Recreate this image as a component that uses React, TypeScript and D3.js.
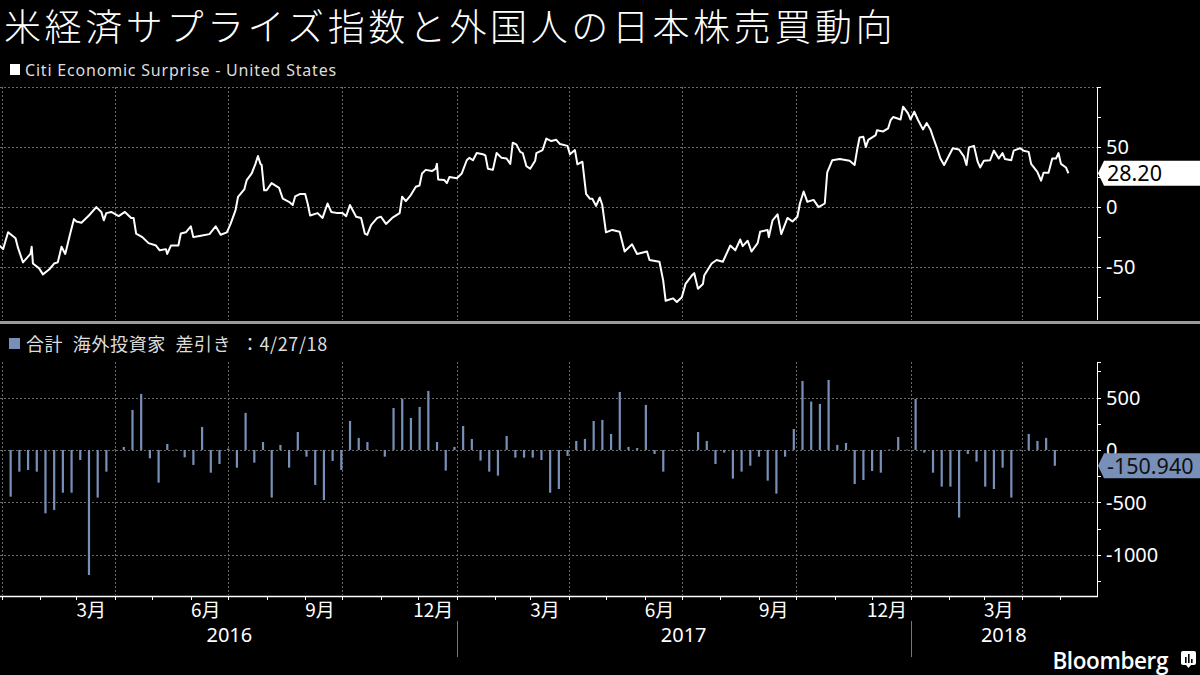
import React, { useEffect, useRef } from 'react';
import * as d3 from 'd3';

// Citi Economic Surprise Index - United States
const citiSeries: [string, number][] = [
  ["2015-12-30", -32], ["2016-01-02", -35], ["2016-01-06", -21], ["2016-01-12", -26], ["2016-01-14", -34],
  ["2016-01-18", -46], ["2016-01-24", -39], ["2016-01-25", -33], ["2016-01-26", -47], ["2016-01-31", -51],
  ["2016-02-03", -56], ["2016-02-08", -52], ["2016-02-12", -47], ["2016-02-15", -46], ["2016-02-18", -33],
  ["2016-02-21", -39], ["2016-02-25", -22], ["2016-02-28", -10], ["2016-03-01", -12], ["2016-03-05", -13],
  ["2016-03-11", -7], ["2016-03-17", 0], ["2016-03-21", -4], ["2016-03-23", -11], ["2016-03-25", -5],
  ["2016-03-29", -4], ["2016-04-04", -7.5], ["2016-04-09", -4], ["2016-04-14", -9], ["2016-04-16", -9],
  ["2016-04-18", -22], ["2016-04-23", -25], ["2016-04-28", -30], ["2016-05-04", -32], ["2016-05-07", -36],
  ["2016-05-12", -35], ["2016-05-13", -39], ["2016-05-16", -32], ["2016-05-22", -32], ["2016-05-24", -22],
  ["2016-05-28", -21], ["2016-06-01", -16], ["2016-06-03", -25], ["2016-06-08", -24], ["2016-06-16", -22.5],
  ["2016-06-21", -16], ["2016-06-25", -23], ["2016-06-30", -21], ["2016-07-03", -14], ["2016-07-07", -2.5],
  ["2016-07-09", 8.6], ["2016-07-14", 14.7], ["2016-07-16", 22.5], ["2016-07-20", 28], ["2016-07-23", 36],
  ["2016-07-25", 42.5], ["2016-07-27", 36], ["2016-07-28", 35], ["2016-07-30", 14], ["2016-08-01", 14],
  ["2016-08-05", 20], ["2016-08-11", 16], ["2016-08-14", 7], ["2016-08-19", 4.4], ["2016-08-22", 1.7],
  ["2016-08-24", 9], ["2016-08-28", 11], ["2016-09-01", 11], ["2016-09-03", 3], ["2016-09-05", -7],
  ["2016-09-11", -5], ["2016-09-15", -9], ["2016-09-19", 3], ["2016-09-22", -4], ["2016-09-27", -5],
  ["2016-10-01", -5], ["2016-10-04", -7.5], ["2016-10-07", 1.7], ["2016-10-12", -8], ["2016-10-16", -9],
  ["2016-10-19", -22], ["2016-10-21", -23], ["2016-10-24", -15], ["2016-10-29", -9], ["2016-11-01", -8],
  ["2016-11-05", -14], ["2016-11-10", -9], ["2016-11-16", -5], ["2016-11-18", 8.6], ["2016-11-21", 5],
  ["2016-11-25", 10], ["2016-11-29", 17], ["2016-12-02", 18], ["2016-12-04", 28], ["2016-12-07", 31],
  ["2016-12-12", 30], ["2016-12-15", 32], ["2016-12-16", 36], ["2016-12-17", 23], ["2016-12-22", 22.5],
  ["2016-12-24", 20], ["2016-12-26", 25], ["2017-01-01", 24], ["2017-01-05", 28], ["2017-01-09", 39],
  ["2017-01-11", 41], ["2017-01-14", 39], ["2017-01-17", 45], ["2017-01-22", 44], ["2017-01-24", 43],
  ["2017-01-26", 32], ["2017-01-30", 31], ["2017-02-02", 45], ["2017-02-06", 41], ["2017-02-10", 40.5],
  ["2017-02-13", 36], ["2017-02-15", 53.6], ["2017-02-18", 52], ["2017-02-21", 46], ["2017-02-23", 45],
  ["2017-02-26", 34], ["2017-03-01", 32], ["2017-03-05", 38.6], ["2017-03-06", 45], ["2017-03-11", 47.5],
  ["2017-03-14", 57], ["2017-03-18", 55], ["2017-03-22", 56], ["2017-03-25", 52.5], ["2017-03-31", 51],
  ["2017-04-02", 44], ["2017-04-06", 47.5], ["2017-04-08", 35.6], ["2017-04-12", 37.8], ["2017-04-15", 11],
  ["2017-04-18", 7], ["2017-04-20", 7], ["2017-04-23", 1], ["2017-04-26", 8], ["2017-04-28", 1.7],
  ["2017-05-01", -21], ["2017-05-06", -19], ["2017-05-12", -20.5], ["2017-05-16", -37], ["2017-05-22", -31],
  ["2017-05-26", -39], ["2017-06-03", -37], ["2017-06-05", -44], ["2017-06-13", -45.5], ["2017-06-16", -61],
  ["2017-06-18", -78], ["2017-06-24", -76], ["2017-06-27", -79], ["2017-07-01", -75], ["2017-07-04", -64],
  ["2017-07-09", -57], ["2017-07-11", -55], ["2017-07-14", -68], ["2017-07-18", -64], ["2017-07-19", -57],
  ["2017-07-25", -47], ["2017-07-29", -44], ["2017-08-03", -45.5], ["2017-08-09", -32], ["2017-08-13", -36],
  ["2017-08-17", -27], ["2017-08-19", -32.5], ["2017-08-23", -28], ["2017-08-26", -37], ["2017-08-31", -30],
  ["2017-09-02", -20.5], ["2017-09-08", -19], ["2017-09-09", -25], ["2017-09-12", -11], ["2017-09-16", -6],
  ["2017-09-19", -22.5], ["2017-09-24", -9], ["2017-09-28", -12], ["2017-10-02", -8], ["2017-10-04", 3],
  ["2017-10-07", 13], ["2017-10-10", 4.4], ["2017-10-15", 6], ["2017-10-19", 0], ["2017-10-24", 3],
  ["2017-10-26", 29], ["2017-10-30", 39], ["2017-11-05", 40], ["2017-11-13", 38.6], ["2017-11-17", 35],
  ["2017-11-19", 47.5], ["2017-11-21", 58], ["2017-11-24", 58.6], ["2017-11-26", 50], ["2017-11-28", 56],
  ["2017-12-04", 60], ["2017-12-05", 64], ["2017-12-10", 63], ["2017-12-14", 65.6], ["2017-12-16", 72.5],
  ["2017-12-18", 75], ["2017-12-21", 74], ["2017-12-24", 73], ["2017-12-26", 83.6], ["2017-12-30", 78],
  ["2018-01-01", 73], ["2018-01-04", 79.4], ["2018-01-07", 72.5], ["2018-01-11", 64.7], ["2018-01-14", 70],
  ["2018-01-17", 64.7], ["2018-01-19", 58.6], ["2018-01-22", 50], ["2018-01-25", 40.5], ["2018-01-28", 35],
  ["2018-02-04", 49], ["2018-02-09", 48], ["2018-02-13", 42], ["2018-02-15", 35], ["2018-02-17", 49.7],
  ["2018-02-21", 51], ["2018-02-24", 37.8], ["2018-02-26", 33], ["2018-03-01", 38.6], ["2018-03-06", 39],
  ["2018-03-09", 47], ["2018-03-13", 40.5], ["2018-03-16", 45], ["2018-03-18", 40], ["2018-03-23", 39],
  ["2018-03-25", 47], ["2018-03-30", 49], ["2018-04-02", 47], ["2018-04-06", 46], ["2018-04-08", 36],
  ["2018-04-13", 29.4], ["2018-04-16", 22], ["2018-04-18", 28.6], ["2018-04-22", 28.6], ["2018-04-25", 40.5],
  ["2018-04-28", 40.5], ["2018-04-30", 45], ["2018-05-02", 36], ["2018-05-06", 33], ["2018-05-08", 28.2],
];

// weekly net purchases by foreign investors (合計 海外投資家 差引き), week ending Fridays
const flowFirstWeek = "2016-01-08";
const flowLastWeek = "2018-04-27";
const flowValues = [
  -446, -207, -191, -207, -605, -573, -408, -408, -96, -1194,
  -455, -207, 5, 29, 382, 535, -80, -312, 57, 4,
  -70, -143, 220, -217, -134, 13, -169, 354, -121, 76,
  -455, 48, -169, 172, -64, -334, -478, -105, -191, 277,
  115, 76, 3, -64, 401, 490, 306, 411, 564, 76,
  -197, 29, 229, 105, -102, -207, -245, 134, -73, -73,
  -73, -96, -408, -373, -57, 86, 105, 277, 287, 153,
  554, 29, 19, 430, -38, -207, -6, 6, -6, 172,
  86, -134, -25, -274, -207, -150, -64, -293, -417, -64,
  200, 659, 462, 440, 669, 48, 67, -325, -287, -201,
  -217, 5, 124, 3, 487, -25, -217, -350, -350, -646,
  -38, -111, -350, -373, -169, -455, 3, 153, 86, 115,
  -150.94,
];

const topTicks = [50, 0, -50];
const topMinor = [100, 75, 25, -25, -75];
const bottomTicks = [500, 0, -500, -1000];
const bottomMinor = [750, 250, -250, -750, -1250];
const labelMonths = [2, 5, 8, 11]; // 3月 6月 9月 12月
const lastCiti = "28.20";
const lastFlow = "-150.940";

const title = "米経済サプライズ指数と外国人の日本株売買動向";
const legendTop = "Citi Economic Surprise - United States";
const legendBottom = "合計 海外投資家 差引き ：4/27/18";

const BAR = "#7890b8";
const GRID = "#6a6a6a";
const FONT = "'Noto Sans', 'Noto Sans CJK JP', sans-serif";
const JFONT = "'Noto Sans CJK JP', 'Noto Sans', sans-serif";

const App: React.FC = () => {
  const svgRef = useRef<SVGSVGElement>(null);

  useEffect(() => {
    if (!svgRef.current) return;
    const svg = d3.select(svgRef.current);
    svg.selectAll("*").remove();

    const width = 1200;
    const height = 675;
    const plotRight = 1097;
    const top = { y0: 87, y1: 320 };
    const bot = { y0: 362, y1: 595 };
    const parse = d3.timeParse("%Y-%m-%d");

    const start = new Date(2015, 11, 30, 12);
    const end = new Date(2018, 4, 31);
    const x = d3.scaleTime().domain([start, end]).range([0, plotRight]);
    const yTop = d3.scaleLinear().domain([-94, 100]).range([top.y1, top.y0]);
    const yBot = d3.scaleLinear().domain([-1385, 840]).range([bot.y1, bot.y0]);

    svg.append("rect").attr("width", width).attr("height", height).attr("fill", "#000");

    // title + legends
    svg.append("text").attr("x", 4).attr("y", 41).attr("fill", "#fff")
      .attr("font-family", JFONT).attr("font-size", 37).attr("font-weight", 300)
      .attr("letter-spacing", 3.6).text(title);

    svg.append("rect").attr("x", 10).attr("y", 64).attr("width", 10).attr("height", 11).attr("fill", "#fff");
    svg.append("text").attr("x", 25).attr("y", 75.5).attr("fill", "#ddd")
      .attr("font-family", FONT).attr("font-size", 16).attr("letter-spacing", 0.8).text(legendTop);

    svg.append("rect").attr("x", 9).attr("y", 338).attr("width", 11).attr("height", 11).attr("fill", BAR);
    svg.append("text").attr("x", 26).attr("y", 351).attr("fill", "#ddd")
      .attr("font-family", JFONT).attr("font-size", 18).attr("letter-spacing", 0.6)
      .attr("word-spacing", 5).text(legendBottom);

    // panel separator
    svg.append("rect").attr("x", 0).attr("y", 321).attr("width", width).attr("height", 3).attr("fill", "#9a9a9a");

    const quarters = d3.timeMonth.every(3)!.range(d3.timeMonth.floor(start), end)
      .filter(d => d >= new Date(2016, 0, 1));

    const gridV = (y0: number, y1: number) => {
      svg.append("g").selectAll("line").data(quarters).enter().append("line")
        .attr("x1", d => Math.round(x(d)) + 0.5).attr("x2", d => Math.round(x(d)) + 0.5)
        .attr("y1", y0).attr("y2", y1)
        .attr("stroke", GRID).attr("stroke-width", 1).attr("stroke-dasharray", "2,2");
    };
    gridV(top.y0, top.y1);
    gridV(bot.y0, bot.y1);

    // horizontal grids
    svg.append("g").selectAll("line").data([100, ...topTicks]).enter().append("line")
      .attr("x1", 0).attr("x2", plotRight)
      .attr("y1", d => Math.round(yTop(d)) + 0.5).attr("y2", d => Math.round(yTop(d)) + 0.5)
      .attr("stroke", GRID).attr("stroke-dasharray", "2,2");
    svg.append("g").selectAll("line").data(bottomTicks).enter().append("line")
      .attr("x1", 0).attr("x2", plotRight)
      .attr("y1", d => Math.round(yBot(d)) + 0.5).attr("y2", d => Math.round(yBot(d)) + 0.5)
      .attr("stroke", GRID).attr("stroke-dasharray", "2,2");

    // line
    svg.append("defs").append("clipPath").attr("id", "clipTop")
      .append("rect").attr("x", 0).attr("y", top.y0).attr("width", plotRight).attr("height", top.y1 - top.y0);
    const line = d3.line<[string, number]>()
      .x(d => x(parse(d[0])!))
      .y(d => yTop(d[1]));
    svg.append("path").datum(citiSeries)
      .attr("clip-path", "url(#clipTop)")
      .attr("fill", "none").attr("stroke", "#fff").attr("stroke-width", 2)
      .attr("stroke-linejoin", "round").attr("d", line as any);

    // bars
    const weeks = d3.timeFriday.range(parse(flowFirstWeek)!, d3.timeDay.offset(parse(flowLastWeek)!, 1));
    const flows = flowValues.map((v, i) => ({ date: weeks[i], value: v }));
    svg.append("g").selectAll("rect").data(flows).enter().append("rect")
      .attr("x", d => x(d.date) - 1)
      .attr("width", 2.2)
      .attr("y", d => yBot(Math.max(0, d.value)))
      .attr("height", d => Math.max(0.6, Math.abs(yBot(d.value) - yBot(0))))
      .attr("fill", BAR);

    // right axes
    const axisG = svg.append("g").attr("stroke", "#fff");
    axisG.append("line").attr("x1", plotRight + 0.5).attr("x2", plotRight + 0.5).attr("y1", top.y0).attr("y2", top.y1);
    axisG.append("line").attr("x1", plotRight + 0.5).attr("x2", plotRight + 0.5).attr("y1", bot.y0).attr("y2", bot.y1 + 1);
    axisG.selectAll(".tt").data([...topTicks, ...topMinor]).enter().append("line")
      .attr("x1", plotRight).attr("x2", plotRight + 4)
      .attr("y1", d => Math.round(yTop(d)) + 0.5).attr("y2", d => Math.round(yTop(d)) + 0.5);
    axisG.selectAll(".bt").data([...bottomTicks, ...bottomMinor, 840]).enter().append("line")
      .attr("x1", plotRight).attr("x2", plotRight + 4)
      .attr("y1", d => Math.round(yBot(d)) + 0.5).attr("y2", d => Math.round(yBot(d)) + 0.5);

    svg.append("g").selectAll("text").data(topTicks).enter().append("text")
      .attr("x", 1106).attr("y", d => yTop(d)).attr("dy", "0.36em")
      .attr("fill", "#fff").attr("font-family", FONT).attr("font-size", 20)
      .text(d => String(d));
    svg.append("g").selectAll("text").data(bottomTicks).enter().append("text")
      .attr("x", 1106).attr("y", d => yBot(d)).attr("dy", "0.36em")
      .attr("fill", "#fff").attr("font-family", FONT).attr("font-size", 20)
      .text(d => String(d));

    // last value tags
    const tag = (yc: number, fill: string, textFill: string, label: string) => {
      const h = 12.5;
      const x0 = plotRight + 1;
      svg.append("path")
        .attr("d", `M${x0},${yc} L${x0 + 6},${yc - h} L${width},${yc - h} L${width},${yc + h} L${x0 + 6},${yc + h} Z`)
        .attr("fill", fill);
      svg.append("text").attr("x", 1107).attr("y", yc).attr("dy", "0.37em")
        .attr("fill", textFill).attr("font-family", FONT).attr("font-size", 21.5).text(label);
    };
    tag(yTop(citiSeries[citiSeries.length - 1][1]), "#fff", "#000", lastCiti);
    tag(yBot(flowValues[flowValues.length - 1]), BAR, "#111", lastFlow);

    // x axis
    const xa = svg.append("g");
    xa.append("line").attr("x1", 0).attr("x2", plotRight + 1).attr("y1", 596.5).attr("y2", 596.5)
      .attr("stroke", "#fff").attr("stroke-width", 1.5);
    const months = d3.timeMonth.range(new Date(2016, 0, 1), end);
    xa.selectAll(".mt").data(months).enter().append("line")
      .attr("x1", d => Math.round(x(d)) + 0.5).attr("x2", d => Math.round(x(d)) + 0.5)
      .attr("y1", 596).attr("y2", 600).attr("stroke", "#fff");
    const labelled = months.filter(d => labelMonths.includes(d.getMonth()));
    xa.selectAll(".ml").data(labelled).enter().append("text")
      .attr("x", d => x(d3.timeDay.offset(d, 12))).attr("y", 617)
      .attr("text-anchor", "middle").attr("fill", "#fff")
      .attr("font-family", JFONT).attr("font-size", 19)
      .text(d => `${d.getMonth() + 1}月`);

    const years = [2016, 2017, 2018];
    xa.selectAll(".yl").data(years).enter().append("text")
      .attr("x", d => {
        const a = Math.max(0, x(new Date(d, 0, 1)));
        const b = Math.min(plotRight, x(new Date(d + 1, 0, 1)));
        return (a + b) / 2;
      })
      .attr("y", 642).attr("text-anchor", "middle").attr("fill", "#fff")
      .attr("font-family", FONT).attr("font-size", 20).text(d => String(d));
    xa.selectAll(".ys").data(years.slice(1)).enter().append("line")
      .attr("x1", d => Math.round(x(new Date(d, 0, 1))) + 0.5).attr("x2", d => Math.round(x(new Date(d, 0, 1))) + 0.5)
      .attr("y1", 621).attr("y2", 657).attr("stroke", "#777");

    // Bloomberg logo
    svg.append("text").attr("x", 1168).attr("y", 669).attr("text-anchor", "end")
      .attr("fill", "#fff").attr("font-family", "'Open Sans', 'Noto Sans', sans-serif")
      .attr("font-weight", 600).attr("font-size", 22.5).attr("letter-spacing", -0.4).text("Bloomberg");
    const logo = svg.append("g").attr("transform", "translate(1181,651)");
    logo.append("rect").attr("width", 15).attr("height", 14).attr("rx", 2).attr("fill", "#fff");
    logo.append("path").attr("d", "M5,14 L7.5,17 L10,14 Z").attr("fill", "#fff");
    [[4, 6], [7, 3], [10, 8]].forEach(([bx, by]) =>
      logo.append("rect").attr("x", bx).attr("y", by).attr("width", 1.6).attr("height", 12 - by).attr("fill", "#000"));
  }, []);

  return (
    <div style={{ position: 'absolute', left: 0, top: 0, width: 1200, height: 675, background: '#000' }}>
      <svg ref={svgRef} width={1200} height={675} viewBox="0 0 1200 675" style={{ display: 'block' }} />
    </div>
  );
};

export default App;
